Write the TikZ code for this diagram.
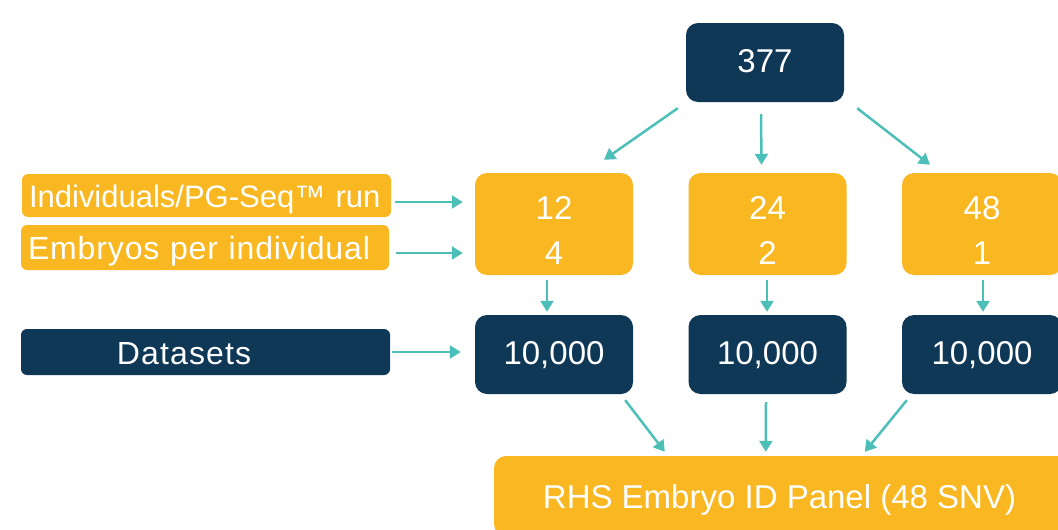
\documentclass[tikz,border=0pt]{standalone}
\usepackage{fontspec}
\setmainfont{Liberation Sans}
\usepackage{tikz}
\usetikzlibrary{calc}
\usetikzlibrary{arrows.meta}

\definecolor{navy}{HTML}{0F3756}
\definecolor{amber}{HTML}{F9B822}
\definecolor{teal}{HTML}{4CC0B8}

\tikzset{
	darkbox/.style={fill=navy, text=white, rounded corners=12pt, minimum width=158pt, minimum height=79pt, inner sep=0pt, text height=19pt, text depth=0pt, font=\fontsize{33}{40}\selectfont},
	orangebox/.style={fill=amber, text=white, rounded corners=12pt, minimum width=158pt, minimum height=102pt, inner sep=0pt, align=center, font=\fontsize{33}{45}\selectfont},
	labelbox/.style={rounded corners=6pt, text=white, inner xsep=7pt, inner ysep=0pt, text width=355pt, align=left, text height=24pt, text depth=0pt, font=\fontsize{31}{36}\selectfont},
	flow/.style={teal, line width=2.5pt, -{Triangle[length=11pt, width=13pt]}}
}

\begin{document}
\begin{tikzpicture}[x=1pt, y=-1pt]
	\useasboundingbox (0,0) rectangle (1058,530);

	\node (top) [darkbox] at (765,62.5) {377};

	\node (o1) [orangebox] at (554,224) {\rule{0pt}{35pt}12\\4};
	\node (o2) [orangebox] at (767.5,224) {\rule{0pt}{35pt}24\\2};
	\node (o3) [orangebox, minimum width=160pt] at (982,224) {\rule{0pt}{35pt}48\\1};

	\node (d1) [darkbox] at (554,354.5) {10,000};
	\node (d2) [darkbox] at (767.5,354.5) {10,000};
	\node (d3) [darkbox, minimum width=160pt] at (982,354.5) {10,000};

	\node (bot) [fill=amber, text=white, rounded corners=12pt, minimum width=580pt, minimum height=80pt, inner sep=0pt, text height=25pt, text depth=0pt, font=\fontsize{33}{40}\selectfont] at (784,496) {\hspace*{-9pt}RHS Embryo ID Panel (48 SNV)};

	\node (lb1) [labelbox, fill=amber, minimum height=43pt] at (206.5,195.5) {Individuals/PG-Seq™ run};
	\node (lb2) [labelbox, fill=amber, minimum height=45pt, text width=354pt, font=\fontsize{32}{36}\selectfont\addfontfeature{LetterSpace=2.7}] at (205,247.5) {Embryos per individual};
	\node (ds) [labelbox, fill=navy, minimum height=46pt, font=\fontsize{32}{36}\selectfont\addfontfeature{LetterSpace=3.5}] at (205.5,352) {\hspace*{89pt}Datasets};

	% top to first row
	\draw [flow] ($(top.south west)+(-8,6)$) -- ($(o1.north)+(50,-13)$);
	\draw [flow] ($(top.south)+(-4,12)$) -- ($(o2.north)+(-6,-8)$);
	\draw [flow] ($(top.south east)+(13,6)$) -- ($(o3.north)+(-52,-8)$);

	% labels
	\draw [flow] ($(lb1.east)+(4,6.5)$) -- ($(o1.west|-lb1.east)+(-12,6.5)$);
	\draw [flow] ($(lb2.east)+(7,5.5)$) -- ($(o1.west|-lb2.east)+(-12,5.5)$);
	\draw [flow] ($(ds.east)+(2,0)$) -- ($(d1.west|-ds.east)+(-14,0)$);

	% first row to second row
	\draw [flow] ($(o1.south)+(-7,5)$) -- ($(d1.north)+(-7,-3)$);
	\draw [flow] ($(o2.south)+(-0.5,5)$) -- ($(d2.north)+(-0.5,-3)$);
	\draw [flow] ($(o3.south)+(1,5)$) -- ($(d3.north)+(1,-3)$);

	% second row to panel
	\draw [flow] ($(d1.south east)+(-8,6)$) -- ($(bot.north west)+(171,-4)$);
	\draw [flow] ($(d2.south)+(-1.5,8)$) -- ($(bot.north west)+(272,-4)$);
	\draw [flow] ($(d3.south west)+(5,6)$) -- ($(bot.north west)+(371,-4)$);
\end{tikzpicture}
\end{document}
